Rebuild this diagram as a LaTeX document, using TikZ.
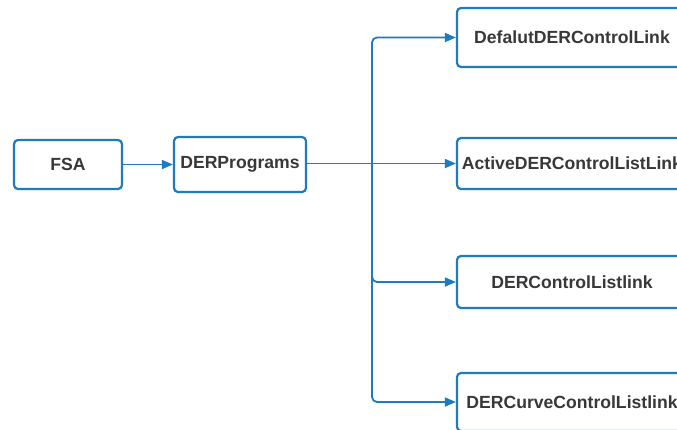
\documentclass[tikz,border=0pt]{standalone}
\usepackage{fontspec}
\setmainfont{Liberation Sans}
\usetikzlibrary{arrows.meta}
\definecolor{lineblue}{HTML}{1F7BBF}
\definecolor{txt}{HTML}{383838}
\begin{document}
\begin{tikzpicture}[x=1pt,y=-1pt,
  box/.style={draw=lineblue, line width=2.2pt, rounded corners=4pt, fill=white,
    inner sep=0pt, text=txt, font=\fontsize{17.6}{20}\selectfont\bfseries},
  conn/.style={draw=lineblue, line width=1.8pt},
  arr/.style={conn, -{Triangle[length=11pt,width=9pt]}}]
\useasboundingbox (0,0) rectangle (677,429);
\clip (0,0) rectangle (677,429);
\fill[white] (0,0) rectangle (677,429);
\node[box, minimum width=108pt, minimum height=49pt] (fsa) at (68,164.5) {FSA};
\node[box, minimum width=132pt, minimum height=55pt] (der) at (240,164.5) {DERPrograms};
\node[box, minimum width=230pt, minimum height=59pt] (b1) at (572,37.5) {DefalutDERControlLink};
\node[box, minimum width=230pt, minimum height=51pt] (b2) at (572,163.5) {ActiveDERControlListLink};
\node[box, minimum width=230pt, minimum height=52pt] (b3) at (572,282) {DERControlListlink};
\node[box, minimum width=230pt, minimum height=58pt] (b4) at (572,402) {DERCurveControlListlink};
\coordinate (j) at (372,163.5);
\draw[arr] (fsa.east) -- (der.west |- fsa.east);
\draw[conn] (der.east |- j) -- (j);
\draw[arr, rounded corners=5pt] (j) |- (b1.west);
\draw[arr] (j) -- (b2.west);
\draw[arr, rounded corners=5pt] (j) |- (b3.west);
\draw[arr, rounded corners=5pt] (j) |- (b4.west);
\end{tikzpicture}
\end{document}
